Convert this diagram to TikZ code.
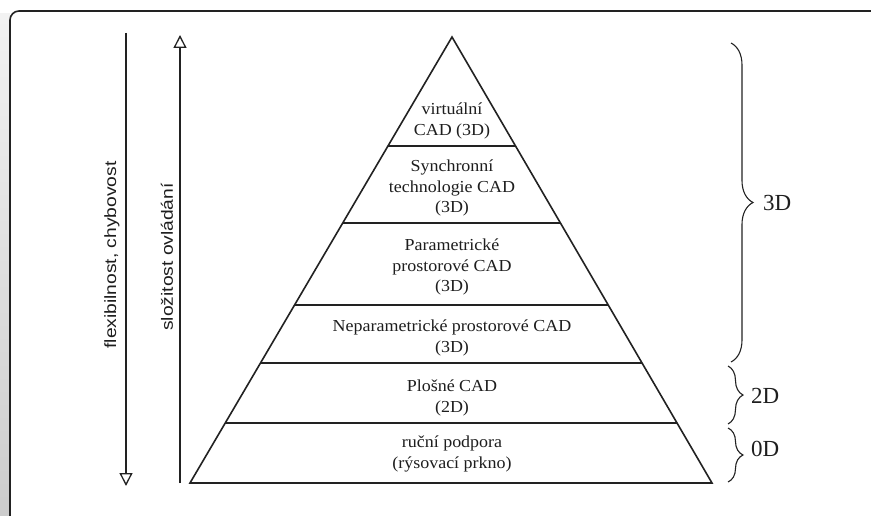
\documentclass[tikz,border=0pt]{standalone}
\usepackage{fontspec}
\setmainfont{Liberation Serif}
\newfontfamily\labelsans{Liberation Sans}
\usetikzlibrary{arrows.meta,decorations.pathreplacing,calc}
\definecolor{ink}{HTML}{222222}
\definecolor{txt}{HTML}{1e1e1e}
\newcommand{\ptxt}[1]{\scalebox{1.07}[1]{\fontsize{16.8}{20.5}\selectfont\begin{tabular}{@{}c@{}}#1\end{tabular}}}
\newcommand{\stxt}[1]{\scalebox{1.18}[1]{\labelsans\fontsize{16.3}{19}\selectfont #1}}
\tikzset{
  layer/.style={line width=1.6pt, draw=ink},
  lvltext/.style={inner sep=0pt, text=txt},
  sidearrow/.style={line width=1.3pt, draw=ink, -{Triangle[open,length=13pt,width=13pt,line width=1.3pt]}},
  sidelabel/.style={inner sep=0pt, text=txt, rotate=90},
  bigbrace/.style={line width=1.1pt, draw=ink, decorate, decoration={brace, amplitude=#1}},
  bracelabel/.style={inner sep=0pt, text=txt, font=\fontsize{23}{25}\selectfont, anchor=west},
}
\begin{document}
\begin{tikzpicture}[x=1pt,y=-1pt]
\useasboundingbox (0,0) rectangle (871,516);
\begin{scope}
\clip (0,0) rectangle (871,516);
% left shaded strip and frame
\shade[top color=gray!10, bottom color=gray!40] (0,14) rectangle (10,516);
\fill[white] (10,11) rectangle (880,530);
\draw[line width=1.6pt, draw=ink, rounded corners=9pt] (10,530) -- (10,11) -- (890,11);
\end{scope}

% pyramid corners
\coordinate (apex) at (452,37);
\coordinate (bl) at (190,483);
\coordinate (br) at (712,483);
\draw[layer, line join=miter] (apex) -- (br) -- (bl) -- cycle;

% layer boundaries (y levels)
\foreach \yy/\nm in {146/a, 223/b, 305/c, 363/d, 423/e} {
  \coordinate (L\nm) at ($(apex)!{(\yy-37)/446}!(bl)$);
  \coordinate (R\nm) at ($(apex)!{(\yy-37)/446}!(br)$);
  \draw[layer] (L\nm) -- (R\nm);
}

% texts
\node[lvltext] (t1) at (452,121) {\ptxt{virtuální\\CAD (3D)}};
\node[lvltext] (t2) at (452,188) {\ptxt{Synchronní\\technologie CAD\\(3D)}};
\node[lvltext] (t3) at (452,267) {\ptxt{Parametrické\\prostorové CAD\\(3D)}};
\node[lvltext] (t4) at (452,338) {\ptxt{Neparametrické prostorové CAD\\(3D)}};
\node[lvltext] (t5) at (452,398) {\ptxt{Plošné CAD\\(2D)}};
\node[lvltext] (t6) at (452,454) {\ptxt{ruční podpora\\(rýsovací prkno)}};

% side arrows
\coordinate (fa) at (126,33);
\coordinate (fb) at (126,486);
\draw[sidearrow] (fa) -- (fb);
\coordinate (sa) at (180,483);
\coordinate (sb) at (180,35);
\draw[sidearrow] (sa) -- (sb);
\node[sidelabel] (fl) at (112,255) {\stxt{flexibilnost, chybovost}};
\node[sidelabel] (sl) at (167,257) {\stxt{složitost ovládání}};

% braces
\coordinate (b3a) at (731,43);
\coordinate (b3b) at (731,362);
\draw[bigbrace=22pt] (b3a) -- (b3b);
\coordinate (b2a) at (728,366);
\coordinate (b2b) at (728,424);
\draw[bigbrace=15pt] (b2a) -- (b2b);
\coordinate (b0a) at (728,428);
\coordinate (b0b) at (728,482);
\draw[bigbrace=15pt] (b0a) -- (b0b);
\node[bracelabel] (l3) at (763,203) {3D};
\node[bracelabel] (l2) at (751,396) {2D};
\node[bracelabel] (l0) at (751,449) {0D};
\end{tikzpicture}
\end{document}
